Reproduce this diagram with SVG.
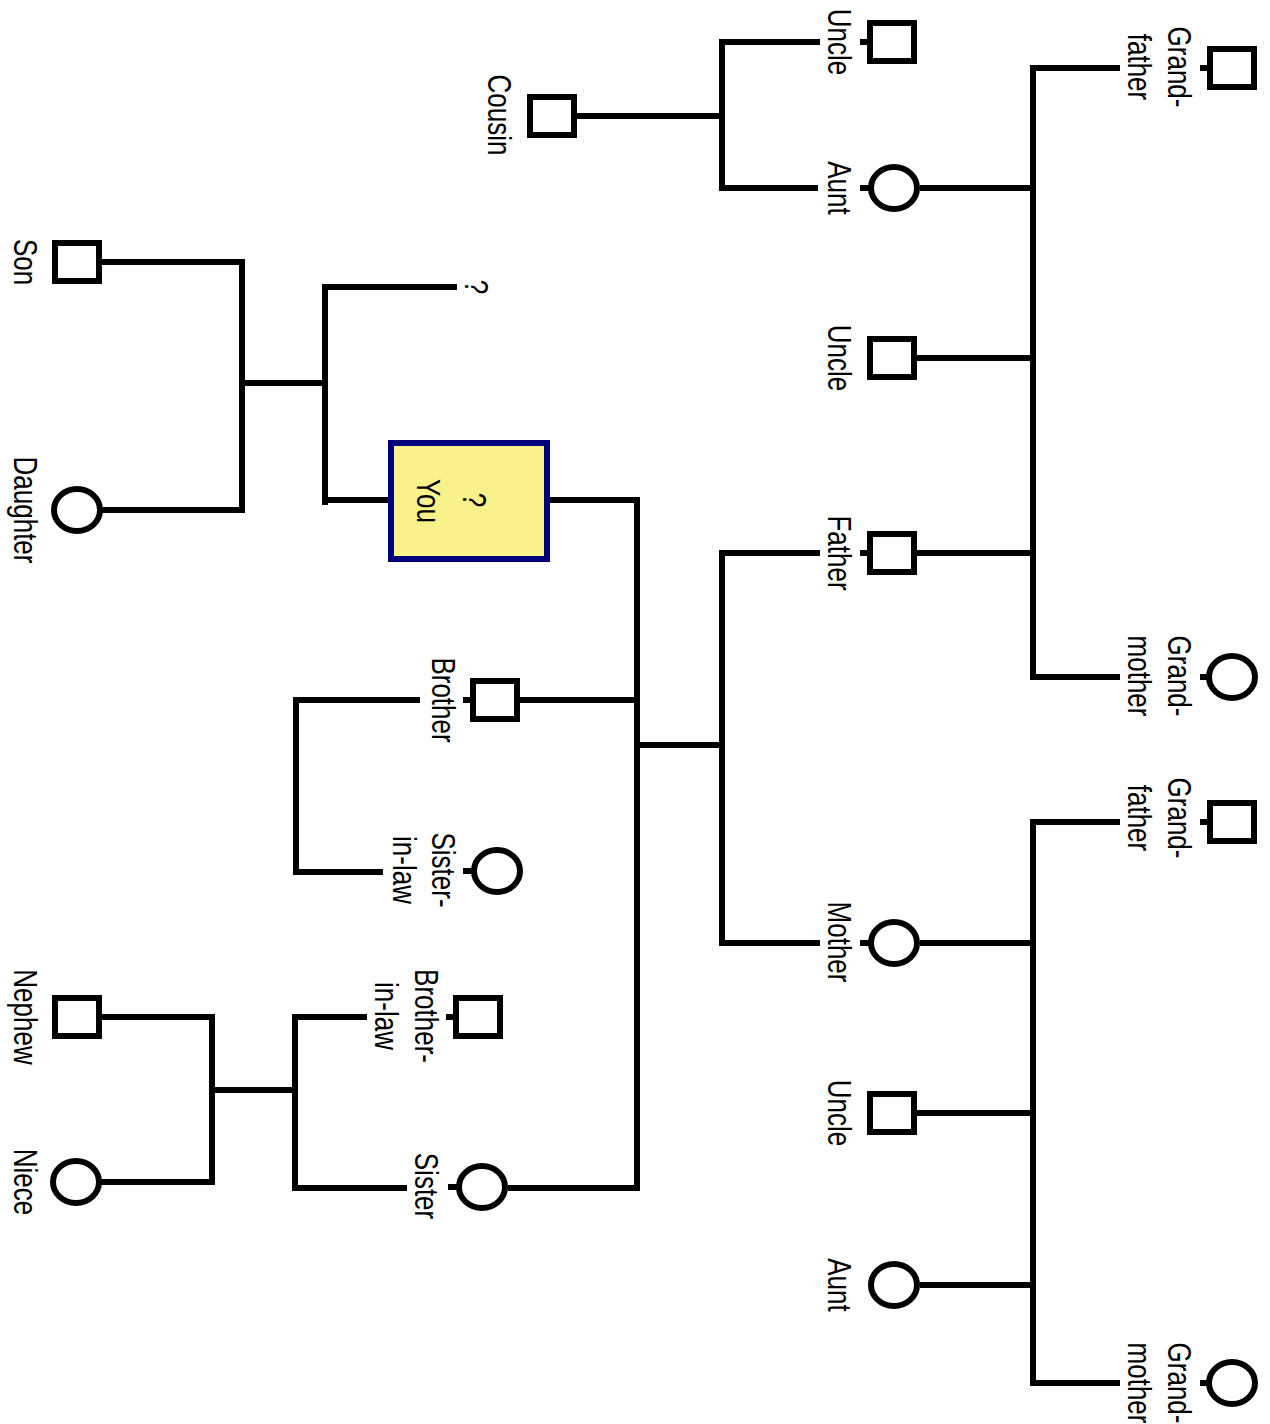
<svg xmlns="http://www.w3.org/2000/svg" width="1270" height="1424" viewBox="0 0 1270 1424">
<style>
.bg{fill:#fff}
.m{fill:#fff;stroke:#000;stroke-width:6}
.f{fill:#fff;stroke:#000;stroke-width:6}
.tk{stroke:#000;stroke-width:6}
.c{fill:none;stroke:#000;stroke-width:6;stroke-linejoin:miter;stroke-linecap:butt}
.t{font-family:"Liberation Sans",Arial,sans-serif;font-size:26px;fill:#000;text-anchor:middle}
.you{fill:#F9F28A;stroke:#00007F;stroke-width:6}
</style>
<rect class="bg" x="0" y="0" width="1270" height="1424"/>
<g id="connectors">
<path class="c" d="M1120,68 H1033 V677 H1120"/>
<path class="c" d="M920,188 H1033"/>
<path class="c" d="M917,358 H1033"/>
<path class="c" d="M917,553 H1033"/>
<path class="c" d="M820,42 H722 V188 H818"/>
<path class="c" d="M577,116 H722"/>
<path class="c" d="M820,553 H722 V943 H820"/>
<path class="c" d="M637,745 H722"/>
<path class="c" d="M1120,822 H1033 V1383 H1120"/>
<path class="c" d="M920,943 H1033"/>
<path class="c" d="M917,1113 H1033"/>
<path class="c" d="M920,1285 H1033"/>
<path class="c" d="M550,500 H637 V1188 H508"/>
<path class="c" d="M520,700 H637"/>
<path class="c" d="M420,700 H296 V872 H383"/>
<path class="c" d="M367,1017 H295 V1188 H407"/>
<path class="c" d="M295,1090 H212"/>
<path class="c" d="M102,1017 H212 V1182 H100"/>
<path class="c" d="M457,287 H325 V505 M325,500 H388"/>
<path class="c" d="M325,383 H242"/>
<path class="c" d="M102,262 H242 V510 H100"/>
</g>
<g id="gf-paternal">
<rect class="m" x="1210" y="49" width="44" height="38"/>
<line class="tk" x1="1200" y1="68" x2="1207" y2="68"/>
<text class="t" transform="translate(1168,67) rotate(90) scale(1,1.25)"><tspan x="0" y="0">Grand-</tspan><tspan x="0" dy="32">father</tspan></text>
</g>
<g id="gm-paternal">
<ellipse class="f" cx="1232" cy="677" rx="23" ry="21"/>
<line class="tk" x1="1200" y1="677" x2="1209" y2="677"/>
<text class="t" transform="translate(1168,676) rotate(90) scale(1,1.25)"><tspan x="0" y="0">Grand-</tspan><tspan x="0" dy="32">mother</tspan></text>
</g>
<g id="uncle-inlaw">
<rect class="m" x="870" y="23" width="44" height="38"/>
<line class="tk" x1="860" y1="42" x2="867" y2="42"/>
<text class="t" transform="translate(828,42) rotate(90) scale(1,1.25)">Uncle</text>
</g>
<g id="aunt-paternal">
<ellipse class="f" cx="894" cy="188" rx="23" ry="21"/>
<line class="tk" x1="860" y1="188" x2="871" y2="188"/>
<text class="t" transform="translate(828,188) rotate(90) scale(1,1.25)">Aunt</text>
</g>
<g id="cousin">
<rect class="m" x="530" y="97" width="44" height="38"/>
<text class="t" transform="translate(488,115) rotate(90) scale(1,1.25)">Cousin</text>
</g>
<g id="uncle-paternal">
<rect class="m" x="870" y="339" width="44" height="38"/>
<text class="t" transform="translate(828,358) rotate(90) scale(1,1.25)">Uncle</text>
</g>
<g id="father">
<rect class="m" x="870" y="534" width="44" height="38"/>
<line class="tk" x1="860" y1="553" x2="867" y2="553"/>
<text class="t" transform="translate(828,553) rotate(90) scale(1,1.25)">Father</text>
</g>
<g id="gf-maternal">
<rect class="m" x="1210" y="803" width="44" height="38"/>
<line class="tk" x1="1200" y1="822" x2="1207" y2="822"/>
<text class="t" transform="translate(1168,818) rotate(90) scale(1,1.25)"><tspan x="0" y="0">Grand-</tspan><tspan x="0" dy="32">father</tspan></text>
</g>
<g id="mother">
<ellipse class="f" cx="894" cy="943" rx="23" ry="21"/>
<line class="tk" x1="860" y1="943" x2="871" y2="943"/>
<text class="t" transform="translate(828,942) rotate(90) scale(1,1.25)">Mother</text>
</g>
<g id="uncle-maternal">
<rect class="m" x="870" y="1094" width="44" height="38"/>
<text class="t" transform="translate(828,1113) rotate(90) scale(1,1.25)">Uncle</text>
</g>
<g id="aunt-maternal">
<ellipse class="f" cx="894" cy="1285" rx="23" ry="21"/>
<text class="t" transform="translate(828,1285) rotate(90) scale(1,1.25)">Aunt</text>
</g>
<g id="gm-maternal">
<ellipse class="f" cx="1232" cy="1383" rx="23" ry="21"/>
<line class="tk" x1="1200" y1="1383" x2="1209" y2="1383"/>
<text class="t" transform="translate(1168,1383) rotate(90) scale(1,1.25)"><tspan x="0" y="0">Grand-</tspan><tspan x="0" dy="32">mother</tspan></text>
</g>
<g id="you">
<rect class="you" x="391" y="443" width="156" height="116"/>
<text class="t" transform="translate(463,500) rotate(90) scale(1,1.25)">?</text>
<text class="t" transform="translate(417,501) rotate(90) scale(1,1.25)">You</text>
</g>
<g id="spouse">
<text class="t" transform="translate(465,287) rotate(90) scale(1,1.25)">?</text>
</g>
<g id="son">
<rect class="m" x="55" y="243" width="44" height="38"/>
<text class="t" transform="translate(14,262) rotate(90) scale(1,1.25)">Son</text>
</g>
<g id="daughter">
<ellipse class="f" cx="77" cy="510" rx="23" ry="21"/>
<text class="t" transform="translate(14,510) rotate(90) scale(1,1.25)">Daughter</text>
</g>
<g id="brother">
<rect class="m" x="473" y="681" width="44" height="38"/>
<line class="tk" x1="463" y1="700" x2="470" y2="700"/>
<text class="t" transform="translate(432,700) rotate(90) scale(1,1.25)">Brother</text>
</g>
<g id="sister-in-law">
<ellipse class="f" cx="497" cy="871" rx="23" ry="21"/>
<line class="tk" x1="463" y1="871" x2="474" y2="871"/>
<text class="t" transform="translate(432,870) rotate(90) scale(1,1.25)"><tspan x="0" y="0">Sister-</tspan><tspan x="0" dy="31">in-law</tspan></text>
</g>
<g id="brother-in-law">
<rect class="m" x="456" y="998" width="44" height="38"/>
<line class="tk" x1="446" y1="1017" x2="453" y2="1017"/>
<text class="t" transform="translate(415,1016) rotate(90) scale(1,1.25)"><tspan x="0" y="0">Brother-</tspan><tspan x="0" dy="32">in-law</tspan></text>
</g>
<g id="sister">
<ellipse class="f" cx="482" cy="1187" rx="23" ry="21"/>
<line class="tk" x1="448" y1="1187" x2="459" y2="1187"/>
<text class="t" transform="translate(415,1186) rotate(90) scale(1,1.25)">Sister</text>
</g>
<g id="nephew">
<rect class="m" x="55" y="998" width="44" height="38"/>
<text class="t" transform="translate(14,1017) rotate(90) scale(1,1.25)">Nephew</text>
</g>
<g id="niece">
<ellipse class="f" cx="76" cy="1182" rx="23" ry="21"/>
<text class="t" transform="translate(14,1182) rotate(90) scale(1,1.25)">Niece</text>
</g>
</svg>
